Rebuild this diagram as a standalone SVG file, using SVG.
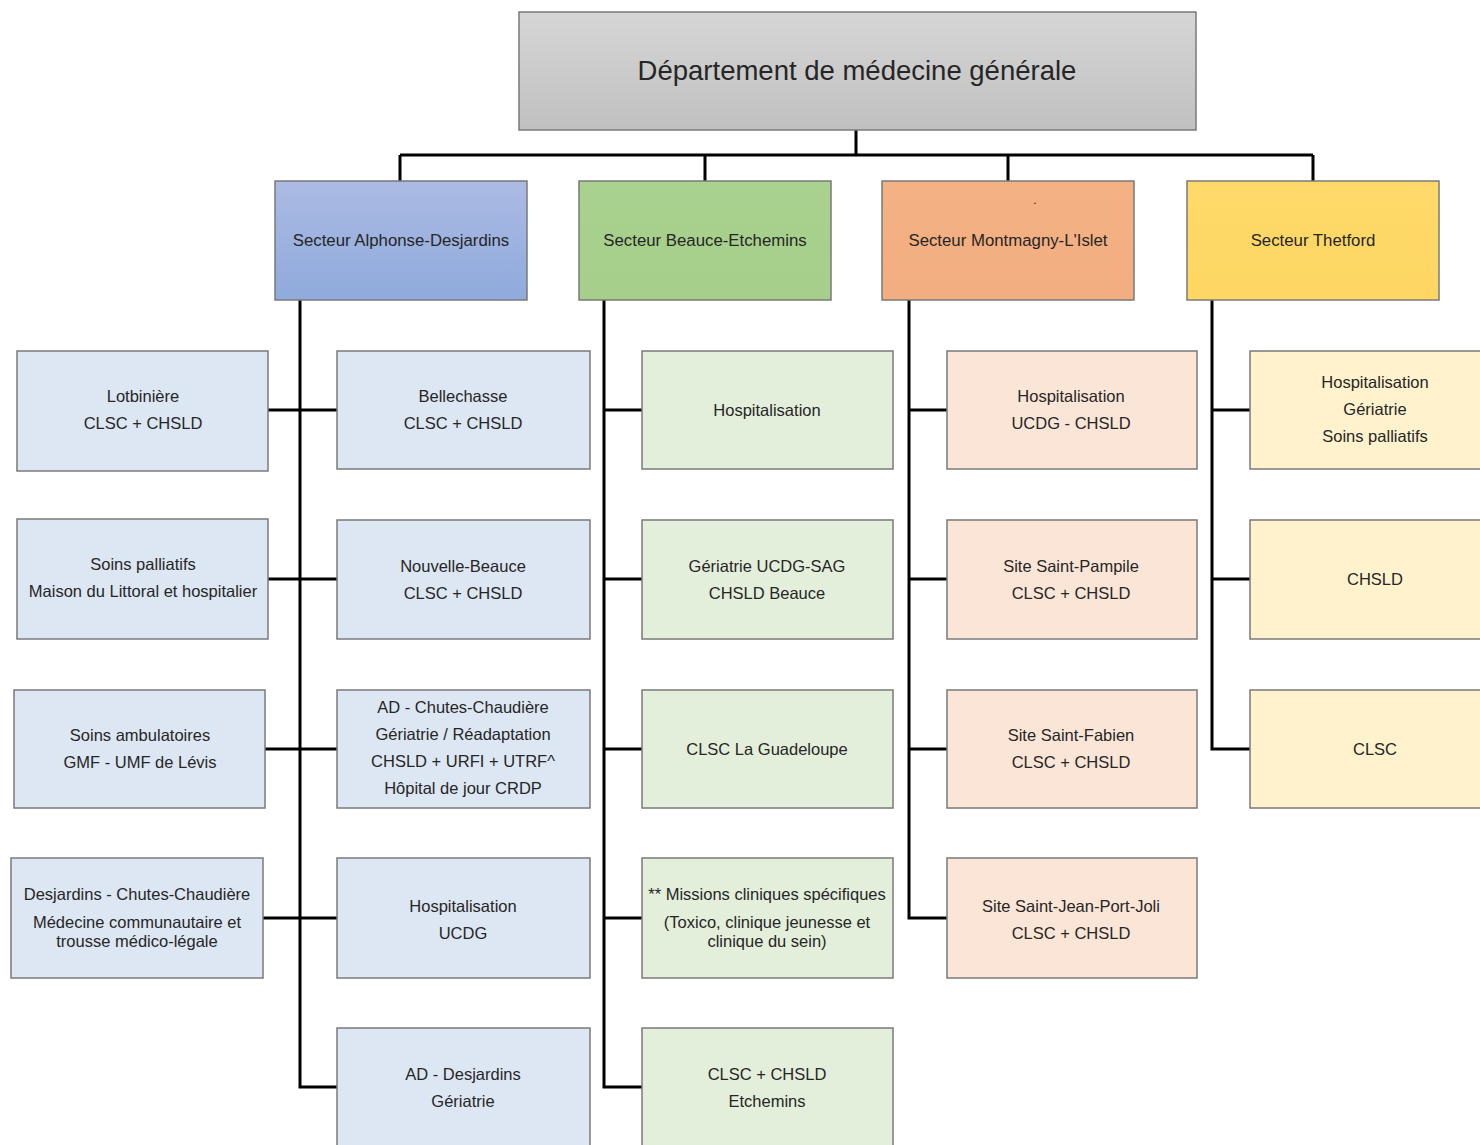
<svg xmlns="http://www.w3.org/2000/svg" width="1480" height="1145" viewBox="0 0 1480 1145">
<defs>
<linearGradient id="gTop" x1="0" y1="0" x2="0" y2="1"><stop offset="0" stop-color="#d6d6d6"/><stop offset="1" stop-color="#c0c0c0"/></linearGradient>
<linearGradient id="gBlue" x1="0" y1="0" x2="0" y2="1"><stop offset="0" stop-color="#abbbe3"/><stop offset="1" stop-color="#8faadc"/></linearGradient>
<linearGradient id="gGreen" x1="0" y1="0" x2="0" y2="1"><stop offset="0" stop-color="#aad18f"/><stop offset="1" stop-color="#a6cf8b"/></linearGradient>
<linearGradient id="gOrange" x1="0" y1="0" x2="0" y2="1"><stop offset="0" stop-color="#f4b184"/><stop offset="1" stop-color="#f2ae80"/></linearGradient>
<linearGradient id="gYellow" x1="0" y1="0" x2="0" y2="1"><stop offset="0" stop-color="#ffda6a"/><stop offset="1" stop-color="#fdd663"/></linearGradient>
</defs>
<style>
rect{stroke:#7a7a7a;stroke-width:1.5}
text{font-family:"Liberation Sans",Arial,sans-serif;fill:#262626;text-anchor:middle}
.t{font-size:27.5px}
.s{font-size:16.8px}
.c{font-size:16.5px}
.b{fill:#dde6f3}
.g{fill:#e3efdb}
.o{fill:#fbe5d7}
.y{fill:#fff2cd}
.ln{fill:none;stroke:#000;stroke-width:3}
</style>
<rect width="1480" height="1145" fill="#ffffff" style="stroke:none"/>
<g id="connectors" class="ln">
<path d="M856,130V155M400,155H1313M400,155V181M705,155V181M1008,155V181M1313,155V181"/>
<path d="M300,300V1087H337M268,410H337M268,579H337M265,749H337M263,918H337"/>
<path d="M604,300V1087H642M604,410H642M604,579H642M604,749H642M604,918H642"/>
<path d="M909,300V918H947M909,410H947M909,579H947M909,749H947"/>
<path d="M1212,300V749H1250M1212,410H1250M1212,579H1250"/>
</g>
<g id="top"><rect x="519" y="12" width="677" height="118" fill="url(#gTop)"/><text class="t" x="857" y="80">Département de médecine générale</text></g>
<g id="sec-ad"><rect x="275" y="181" width="252" height="119" fill="url(#gBlue)"/><text class="s" x="401" y="246">Secteur Alphonse-Desjardins</text></g>
<g id="sec-be"><rect x="579" y="181" width="252" height="119" fill="url(#gGreen)"/><text class="s" x="705" y="246">Secteur Beauce-Etchemins</text></g>
<g id="sec-ml"><rect x="882" y="181" width="252" height="119" fill="url(#gOrange)"/><text class="s" x="1035" y="204" style="font-size:12px">.</text><text class="s" x="1008" y="246">Secteur Montmagny-L'Islet</text></g>
<g id="sec-th"><rect x="1187" y="181" width="252" height="119" fill="url(#gYellow)"/><text class="s" x="1313" y="246">Secteur Thetford</text></g>

<g id="ad-lot"><rect class="b" x="17" y="351" width="251" height="120"/><text class="c" x="143" y="402">Lotbinière</text><text class="c" x="143" y="429">CLSC + CHSLD</text></g>
<g id="ad-sp"><rect class="b" x="17" y="519" width="251" height="120"/><text class="c" x="143" y="570">Soins palliatifs</text><text class="c" x="143" y="597">Maison du Littoral et hospitalier</text></g>
<g id="ad-amb"><rect class="b" x="14" y="690" width="251" height="118"/><text class="c" x="140" y="741">Soins ambulatoires</text><text class="c" x="140" y="768">GMF - UMF de Lévis</text></g>
<g id="ad-dj"><rect class="b" x="11" y="858" width="252" height="120"/><text class="c" x="137" y="900">Desjardins - Chutes-Chaudière</text><text class="c" x="137" y="928">Médecine communautaire et</text><text class="c" x="137" y="947">trousse médico-légale</text></g>
<g id="ad-bel"><rect class="b" x="337" y="351" width="253" height="118"/><text class="c" x="463" y="402">Bellechasse</text><text class="c" x="463" y="429">CLSC + CHSLD</text></g>
<g id="ad-nb"><rect class="b" x="337" y="520" width="253" height="119"/><text class="c" x="463" y="572">Nouvelle-Beauce</text><text class="c" x="463" y="599">CLSC + CHSLD</text></g>
<g id="ad-cc"><rect class="b" x="337" y="690" width="253" height="118"/><text class="c" x="463" y="713">AD - Chutes-Chaudière</text><text class="c" x="463" y="740">Gériatrie / Réadaptation</text><text class="c" x="463" y="767">CHSLD + URFI + UTRF^</text><text class="c" x="463" y="794">Hôpital de jour CRDP</text></g>
<g id="ad-hosp"><rect class="b" x="337" y="858" width="253" height="120"/><text class="c" x="463" y="912">Hospitalisation</text><text class="c" x="463" y="939">UCDG</text></g>
<g id="ad-ger"><rect class="b" x="337" y="1028" width="253" height="130"/><text class="c" x="463" y="1080">AD - Desjardins</text><text class="c" x="463" y="1107">Gériatrie</text></g>

<g id="be-hosp"><rect class="g" x="642" y="351" width="251" height="118"/><text class="c" x="767" y="416">Hospitalisation</text></g>
<g id="be-ger"><rect class="g" x="642" y="520" width="251" height="119"/><text class="c" x="767" y="572">Gériatrie UCDG-SAG</text><text class="c" x="767" y="599">CHSLD Beauce</text></g>
<g id="be-guad"><rect class="g" x="642" y="690" width="251" height="118"/><text class="c" x="767" y="755">CLSC La Guadeloupe</text></g>
<g id="be-miss"><rect class="g" x="642" y="858" width="251" height="120"/><text class="c" x="767" y="900">** Missions cliniques spécifiques</text><text class="c" x="767" y="928">(Toxico, clinique jeunesse et</text><text class="c" x="767" y="947">clinique du sein)</text></g>
<g id="be-etch"><rect class="g" x="642" y="1028" width="251" height="130"/><text class="c" x="767" y="1080">CLSC + CHSLD</text><text class="c" x="767" y="1107">Etchemins</text></g>

<g id="ml-hosp"><rect class="o" x="947" y="351" width="250" height="118"/><text class="c" x="1071" y="402">Hospitalisation</text><text class="c" x="1071" y="429">UCDG - CHSLD</text></g>
<g id="ml-pamp"><rect class="o" x="947" y="520" width="250" height="119"/><text class="c" x="1071" y="572">Site Saint-Pampile</text><text class="c" x="1071" y="599">CLSC + CHSLD</text></g>
<g id="ml-fab"><rect class="o" x="947" y="690" width="250" height="118"/><text class="c" x="1071" y="741">Site Saint-Fabien</text><text class="c" x="1071" y="768">CLSC + CHSLD</text></g>
<g id="ml-jean"><rect class="o" x="947" y="858" width="250" height="120"/><text class="c" x="1071" y="912">Site Saint-Jean-Port-Joli</text><text class="c" x="1071" y="939">CLSC + CHSLD</text></g>

<g id="th-hosp"><rect class="y" x="1250" y="351" width="250" height="118"/><text class="c" x="1375" y="388">Hospitalisation</text><text class="c" x="1375" y="415">Gériatrie</text><text class="c" x="1375" y="442">Soins palliatifs</text></g>
<g id="th-chsld"><rect class="y" x="1250" y="520" width="250" height="119"/><text class="c" x="1375" y="585">CHSLD</text></g>
<g id="th-clsc"><rect class="y" x="1250" y="690" width="250" height="118"/><text class="c" x="1375" y="755">CLSC</text></g>
</svg>
